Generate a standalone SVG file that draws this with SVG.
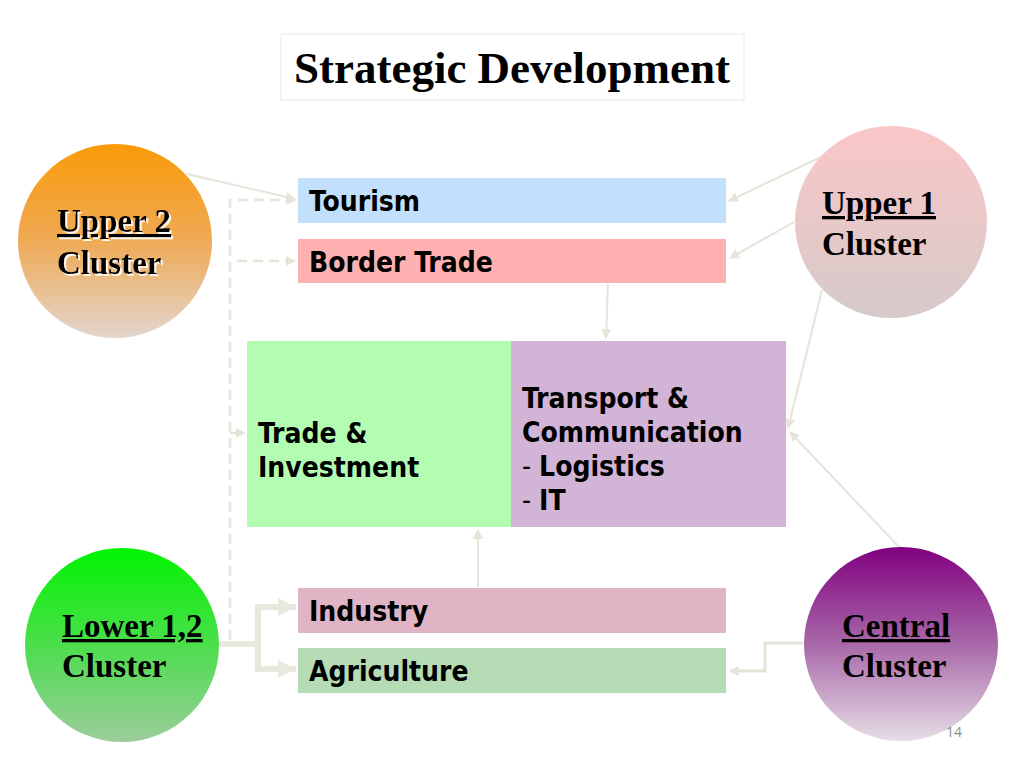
<svg xmlns="http://www.w3.org/2000/svg" width="1024" height="768" viewBox="0 0 1024 768">
<style>
.box-text{font-family:"DejaVu Sans Condensed","DejaVu Sans",sans-serif;font-stretch:condensed;font-weight:bold;font-size:28px;fill:#000}
.reg{font-weight:normal}
.clu{font-family:"Liberation Serif","Times New Roman",serif;font-weight:bold;font-size:33px;fill:#000}
.ul{text-decoration:underline}
.con{fill:none;stroke:#E4E4D8;stroke-width:2}
.dash{fill:none;stroke:#E4E4D8;stroke-width:2.5;stroke-dasharray:10 6}
.thick{fill:none;stroke:#E8E8DE;stroke-width:6}
</style>
<defs>
<linearGradient id="gU2" x1="0" y1="0" x2="0" y2="1"><stop offset="0" stop-color="#FA9A08"/><stop offset="0.5" stop-color="#EFAA55"/><stop offset="1" stop-color="#E2D6CE"/></linearGradient>
<linearGradient id="gU1" x1="0" y1="0" x2="0" y2="1"><stop offset="0" stop-color="#FAC6C6"/><stop offset="1" stop-color="#D6CACA"/></linearGradient>
<linearGradient id="gL" x1="0" y1="0" x2="0" y2="1"><stop offset="0" stop-color="#00F400"/><stop offset="0.5" stop-color="#4CDE4C"/><stop offset="1" stop-color="#9CCC9C"/></linearGradient>
<linearGradient id="gC" x1="0" y1="0" x2="0" y2="1"><stop offset="0" stop-color="#800080"/><stop offset="0.5" stop-color="#A868A8"/><stop offset="1" stop-color="#E6DEE6"/></linearGradient>
<marker id="arr" viewBox="0 0 10 10" refX="9" refY="5" markerWidth="10" markerHeight="10" markerUnits="userSpaceOnUse" orient="auto"><path d="M0,0 L10,5 L0,10 z" fill="#E4E4D8"/></marker>
<marker id="arrBig" viewBox="0 0 10 10" refX="9" refY="5" markerWidth="18" markerHeight="18" markerUnits="userSpaceOnUse" orient="auto"><path d="M0,0 L10,5 L0,10 z" fill="#E8E8DE"/></marker>
<filter id="sh" x="-10%" y="-10%" width="130%" height="130%"><feDropShadow dx="2" dy="2" stdDeviation="0.6" flood-color="#FFFFFF" flood-opacity="0.9"/></filter>
</defs>
<rect width="1024" height="768" fill="#FFFFFF"/>

<g id="title">
<rect x="281" y="34" width="463" height="66" fill="#FFFFFF" stroke="#E8E8E8" stroke-width="1"/>
<text x="512" y="83" text-anchor="middle" style="font-family:'Liberation Serif','Times New Roman',serif;font-weight:bold;font-size:45px">Strategic Development</text>
</g>

<g id="connectors">
<line class="con" x1="187" y1="174" x2="295" y2="199" marker-end="url(#arr)"/>
<polyline class="dash" points="230,640 230,200 295,200" marker-end="url(#arr)"/>
<line class="dash" x1="237" y1="261" x2="295" y2="261" marker-end="url(#arr)"/>
<line class="dash" x1="230" y1="433" x2="245" y2="433" marker-end="url(#arr)"/>
<polyline class="thick" points="213,644 258,644"/>
<polyline class="thick" points="296,607 258,607 258,669 296,669"/>
<line class="thick" x1="258" y1="607" x2="294" y2="607" marker-end="url(#arrBig)"/>
<line class="thick" x1="258" y1="669" x2="294" y2="669" marker-end="url(#arrBig)"/>
<line class="con" x1="608" y1="284" x2="606" y2="338" marker-end="url(#arr)"/>
<line class="con" x1="478" y1="587" x2="478" y2="530" marker-end="url(#arr)"/>
<line class="con" x1="821" y1="157" x2="729" y2="201" marker-end="url(#arr)"/>
<line class="con" x1="794" y1="222" x2="730" y2="258" marker-end="url(#arr)"/>
<line class="con" x1="822" y1="290" x2="788" y2="428" marker-end="url(#arr)"/>
<line class="con" x1="900" y1="548" x2="790" y2="432" marker-end="url(#arr)"/>
<polyline class="con" style="stroke-width:3" points="803,643 765,643 765,671 730,671" marker-end="url(#arr)"/>
</g>

<g id="upper2">
<circle cx="115" cy="241" r="97" fill="url(#gU2)"/>
<g filter="url(#sh)">
<text class="clu ul" x="57" y="232">Upper 2</text>
<text class="clu" x="57" y="274">Cluster</text>
</g>
</g>

<g id="upper1">
<circle cx="891" cy="222" r="96" fill="url(#gU1)"/>
<text class="clu ul" x="822" y="214">Upper 1</text>
<text class="clu" x="822" y="255">Cluster</text>
</g>

<g id="lower12">
<circle cx="122" cy="645" r="97" fill="url(#gL)"/>
<text class="clu ul" x="62" y="637">Lower 1,2</text>
<text class="clu" x="62" y="677">Cluster</text>
</g>

<g id="central">
<circle cx="901" cy="644" r="97" fill="url(#gC)"/>
<text class="clu ul" x="842" y="637">Central</text>
<text class="clu" x="842" y="677">Cluster</text>
</g>

<g id="tourism">
<rect x="298" y="178" width="428" height="45" fill="#C2DFFB"/>
<text class="box-text" x="309" y="211">Tourism</text>
</g>

<g id="border-trade">
<rect x="298" y="239" width="428" height="44" fill="#FFB1B1"/>
<text class="box-text" x="309" y="272">Border Trade</text>
</g>

<g id="trade-investment">
<rect x="247" y="341" width="264" height="186" fill="#B2FDB2"/>
<text class="box-text" x="258" y="443">Trade &amp;</text>
<text class="box-text" x="258" y="477">Investment</text>
</g>

<g id="transport">
<rect x="511" y="341" width="275" height="186" fill="#D2B4D6"/>
<text class="box-text" x="522" y="408">Transport &amp;</text>
<text class="box-text" x="522" y="442">Communication</text>
<text class="box-text" x="522" y="476"><tspan class="reg">- </tspan>Logistics</text>
<text class="box-text" x="522" y="510"><tspan class="reg">- </tspan>IT</text>
</g>

<g id="industry">
<rect x="298" y="588" width="428" height="45" fill="#E0B4C4"/>
<text class="box-text" x="309" y="621">Industry</text>
</g>

<g id="agriculture">
<rect x="298" y="648" width="428" height="45" fill="#B5DCB5"/>
<text class="box-text" x="309" y="681">Agriculture</text>
</g>

<text x="946" y="737" style="font-family:'Open Sans','Liberation Sans',sans-serif;font-size:14px;fill:#8A8A8A">14</text>
</svg>
